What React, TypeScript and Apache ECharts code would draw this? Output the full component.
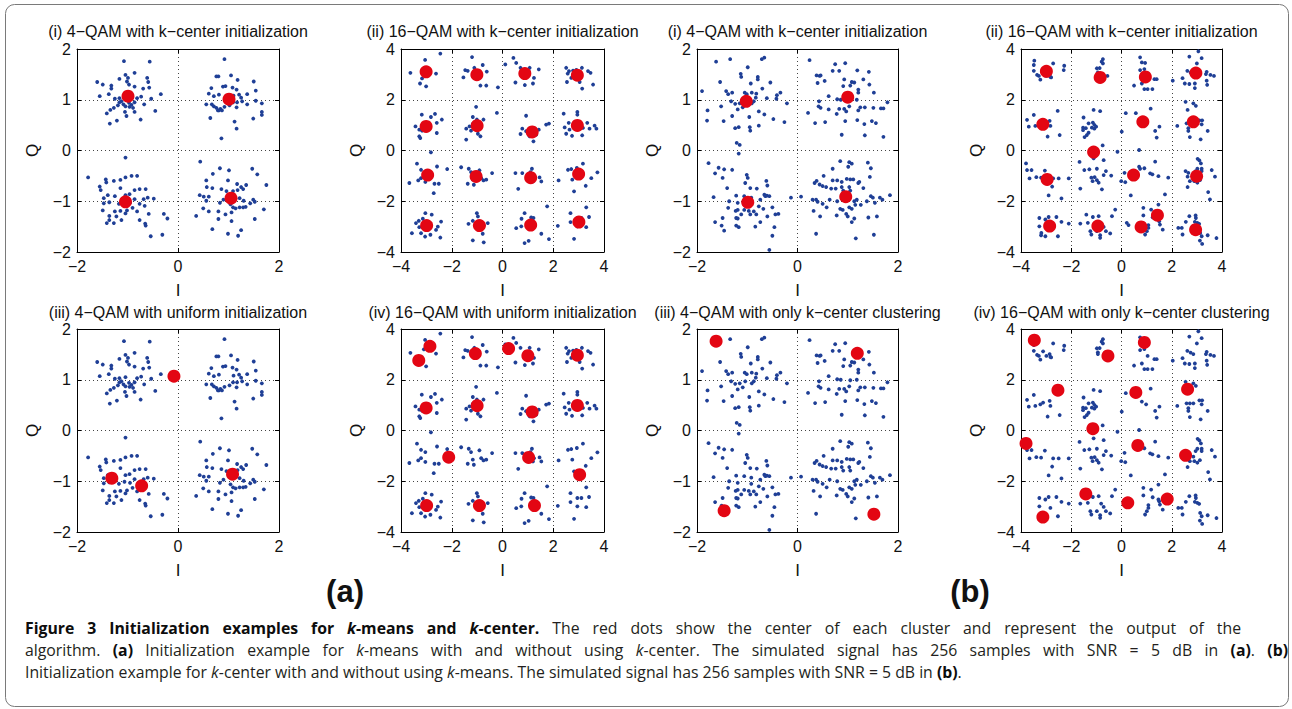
import React, { useEffect, useRef } from 'react';
import * as echarts from 'echarts';

// ---------- data ----------
// 4-QAM signal used in panels (a)(i) and (a)(iii)
const qam4A: number[][] = [
  [-1.07,1.76],[-0.56,1.75],[-1.60,1.35],[-1.49,1.30],[-0.86,1.53],[-1.04,1.49],[-0.99,1.43],[-1.16,1.41],[-0.61,1.43],[-0.59,1.35],
  [-1.32,1.28],[-1.32,1.22],[-1.01,1.36],[-0.97,1.30],[-0.86,1.26],[-0.69,1.22],[-0.57,1.24],[-0.34,1.11],[-1.55,1.07],[-1.37,1.11],
  [-1.25,1.02],[-1.16,1.03],[-1.04,1.05],[-1.12,0.97],[-1.08,0.91],[-0.97,0.94],[-0.92,0.90],[-0.86,0.95],[-1.19,0.89],[-1.16,0.95],
  [-0.81,1.03],[-0.73,1.06],[-0.67,0.91],[-0.53,1.02],[-0.89,0.84],[-0.96,0.86],[-1.04,0.87],[-1.27,0.84],[-1.34,0.80],[-1.41,0.73],
  [-1.05,0.76],[-0.86,0.76],[-1.02,0.68],[-0.45,0.78],[-1.21,0.59],[-0.74,0.61],[-1.35,0.53],
  [0.92,1.80],[0.80,1.46],[0.76,1.46],[1.05,1.48],[1.18,1.39],[1.50,1.36],[0.66,1.23],[0.89,1.26],[0.94,1.27],[1.08,1.24],
  [1.16,1.20],[0.81,1.10],[0.61,1.12],[0.71,1.07],[1.21,1.10],[1.25,1.04],[1.54,1.18],[1.10,1.08],[0.56,0.91],[0.67,0.91],
  [0.71,0.87],[0.76,0.84],[0.81,0.79],[0.84,0.82],[0.92,0.86],[0.79,0.79],[0.87,0.79],[1.17,0.95],[1.27,0.97],[1.37,0.91],
  [1.54,0.98],[1.66,0.93],[1.16,0.85],[1.37,1.11],[0.64,0.64],[1.49,0.63],[1.66,0.76],[1.66,0.70],[1.12,0.57],[1.16,0.43],
  [0.86,0.24],[1.02,0.89],[1.09,0.95],
  [-1.04,-0.14],[-1.78,-0.53],[-1.43,-0.57],[-1.55,-0.71],[-1.53,-0.78],[-1.42,-0.63],[-1.27,-0.60],[-1.14,-0.58],[-1.04,-0.53],[-0.92,-0.50],
  [-0.81,-0.50],[-1.14,-0.74],[-1.04,-0.88],[-0.96,-0.86],[-0.86,-0.78],[-0.76,-0.76],[-0.64,-0.76],[-1.39,-0.88],[-1.25,-0.90],[-1.47,-0.94],
  [-1.36,-1.02],[-1.47,-1.04],[-1.17,-1.05],[-0.95,-1.03],[-0.86,-0.96],[-0.68,-0.96],[-0.60,-0.93],[-0.48,-0.95],[-0.76,-1.05],[-0.66,-1.09],
  [-1.25,-1.20],[-1.14,-1.19],[-1.04,-1.24],[-1.01,-1.18],[-0.90,-1.13],[-0.81,-1.20],[-1.49,-1.18],[-1.36,-1.29],[-1.22,-1.30],[-1.36,-1.37],
  [-1.41,-1.43],[-1.27,-1.43],[-1.12,-1.37],[-0.76,-1.37],[-0.65,-1.44],[-0.64,-1.48],[-0.58,-1.25],[-0.28,-1.25],[-0.21,-1.34],[-0.54,-1.69],
  [-0.31,-1.66],[-1.06,-1.01],
  [0.44,-0.22],[0.83,-0.35],[0.69,-0.46],[1.01,-0.39],[1.47,-0.36],[1.57,-0.47],[1.75,-0.68],[0.56,-0.59],[0.99,-0.59],[1.17,-0.66],
  [1.25,-0.72],[1.35,-0.68],[1.29,-0.76],[0.57,-0.72],[0.68,-0.74],[0.86,-0.76],[0.96,-0.80],[1.09,-0.80],[1.18,-0.78],[0.43,-0.88],
  [0.51,-0.91],[0.61,-0.91],[0.56,-0.99],[0.83,-1.03],[0.90,-0.97],[1.22,-0.94],[1.30,-0.99],[1.49,-0.97],[1.52,-1.01],[1.04,-1.06],
  [1.09,-1.12],[1.14,-1.14],[1.22,-1.12],[1.29,-1.12],[1.34,-1.11],[1.43,-1.04],[1.70,-1.16],[0.50,-1.14],[0.61,-1.20],[0.80,-1.20],
  [0.94,-1.26],[1.06,-1.22],[0.36,-1.29],[1.06,-1.39],[1.52,-1.35],[0.68,-1.55],[1.25,-1.57],[0.99,-1.64],[1.19,-1.68],[0.80,-1.35],
];

// 16-QAM signal used in panels (a)(ii) and (a)(iv)
const qam16A: number[][] = [
  [-2.45,3.82],[-3.63,3.06],[-3.05,3.57],[-3.17,2.84],[-3.25,2.64],[-3.01,2.53],[-2.62,3.03],[-3.10,3.20],
  [-1.20,3.68],[-1.47,3.17],[-1.37,3.14],[-1.54,2.88],[-1.11,3.26],[-0.78,3.37],[-0.62,3.11],[-0.87,2.56],[-0.64,2.56],[-1.17,2.95],[-0.18,2.49],
  [0.11,3.39],[0.43,3.65],[0.54,3.45],[0.71,3.26],[1.07,3.26],[1.43,3.20],[1.04,3.11],[0.51,2.68],[0.88,2.58],[1.20,2.64],[1.24,2.86],
  [2.51,3.26],[2.62,3.13],[2.57,3.03],[2.78,3.15],[2.91,3.18],[3.13,3.26],[3.37,3.13],[3.47,3.06],[2.71,2.86],[2.54,2.70],[3.04,2.70],[3.14,2.44],[3.57,2.60],[2.86,3.00],
  [-3.18,1.41],[-2.66,1.44],[-2.82,1.32],[-2.39,1.22],[-2.59,1.09],[-3.43,0.95],[-3.28,0.82],[-3.17,0.78],[-3.28,0.56],[-2.59,0.69],[-3.24,0.49],
  [-1.04,1.72],[-0.22,1.48],[-1.17,1.32],[-1.01,1.22],[-0.75,1.22],[-1.43,0.86],[-1.30,0.95],[-1.17,1.05],[-1.24,0.78],[-0.97,0.66],[-0.87,0.56],[-1.43,0.43],
  [0.93,1.37],[0.78,0.86],[0.71,0.65],[1.72,1.02],[1.83,1.06],[0.93,0.76],[1.07,0.56],[1.22,0.36],[1.43,0.82],[1.33,0.63],
  [2.41,1.45],[2.95,1.52],[2.95,1.41],[2.61,1.09],[2.45,0.91],[2.64,0.82],[2.51,0.66],[2.74,0.58],[3.14,0.60],[3.34,1.09],[3.17,0.89],[3.63,0.98],[3.70,0.86],[3.43,0.86],
  [-3.37,-0.52],[-2.82,-0.07],[-3.21,-0.76],[-3.04,-0.85],[-2.58,-0.63],[-2.18,-0.73],[-3.67,-1.28],[-3.32,-1.18],[-3.21,-1.09],[-3.04,-1.24],[-2.68,-1.31],[-2.51,-1.31],[-2.71,-1.68],
  [-1.63,-0.66],[-1.33,-0.72],[-1.24,-0.85],[-0.91,-0.78],[-0.41,-0.89],[-1.37,-1.31],[-1.17,-1.15],[-1.13,-1.35],[-0.84,-1.09],[-0.75,-1.18],[-0.64,-1.15],
  [0.51,-0.89],[0.78,-0.89],[1.16,-0.72],[1.24,-1.09],[1.46,-1.06],[1.53,-1.22],[1.20,-1.22],[0.62,-1.51],[1.10,-0.85],
  [2.93,-0.69],[3.17,-0.52],[2.58,-0.76],[2.71,-0.73],[3.74,-0.86],[3.50,-1.09],[2.75,-1.15],[2.21,-1.18],[2.82,-1.61],[3.28,-1.39],
  [-3.57,-3.26],[-3.41,-2.86],[-3.30,-2.77],[-3.14,-2.69],[-3.04,-2.47],[-2.79,-2.53],[-2.42,-2.80],[-3.21,-3.26],[-3.05,-3.39],[-2.84,-3.32],[-2.45,-3.43],[-2.62,-3.13],[-2.55,-3.00],[-3.28,-3.02],
  [-1.01,-2.47],[-0.97,-2.60],[-1.34,-2.89],[-1.17,-2.77],[-0.74,-2.95],[-0.58,-2.86],[-0.78,-3.28],[-1.17,-3.54],[-0.74,-3.62],
  [0.87,-2.47],[0.75,-2.69],[1.13,-2.64],[1.22,-2.66],[0.54,-3.06],[0.74,-2.99],[0.87,-3.65],[1.03,-3.56],[1.53,-3.28],[1.83,-3.49],[1.76,-2.20],
  [2.68,-2.47],[3.30,-2.24],[3.41,-2.62],[2.18,-2.97],[2.68,-2.82],[2.95,-2.66],[3.11,-2.66],[2.95,-2.99],[3.30,-3.02],[2.82,-3.48],
];

// 4-QAM signal used in panels (b)(i) and (b)(iii)
const qam4B: number[][] = [
  [-1.62,1.75],[-1.34,1.80],[-0.71,1.80],[-0.66,1.83],[-0.99,1.64],[-1.90,1.17],[-1.54,1.35],[-1.13,1.51],[-1.12,1.45],[-0.79,1.45],
  [-0.79,1.40],[-0.93,1.32],[-0.54,1.34],[-1.42,1.17],[-1.38,1.11],[-1.30,1.14],[-1.05,1.14],[-1.01,1.11],[-0.91,1.14],[-0.82,1.12],
  [-0.70,1.22],[-0.83,1.04],[-0.61,1.03],[-0.41,1.09],[-0.34,1.14],[-0.42,1.02],[-0.21,0.93],[-1.79,0.79],[-1.52,0.87],[-1.32,0.97],
  [-1.24,0.92],[-1.15,0.93],[-1.19,0.81],[-1.09,0.85],[-0.91,0.93],[-0.87,0.97],[-0.77,0.77],[-1.30,0.68],[-0.66,0.71],[-1.80,0.59],
  [-1.47,0.58],[-0.96,0.66],[-0.77,0.49],[-0.95,0.46],[-0.94,0.39],[-1.24,0.44],[-1.17,0.46],[-0.48,0.62],[-0.26,0.56],[-1.21,0.15],
  [-1.15,0.11],[-1.17,-0.06],[-1.04,0.97],
  [0.24,1.78],[0.75,1.70],[0.95,1.72],[0.70,1.57],[0.83,1.57],[1.19,1.58],[1.42,1.55],[0.38,1.48],[0.44,1.47],[0.46,1.48],
  [0.40,1.33],[0.54,1.37],[0.93,1.40],[1.08,1.35],[1.13,1.34],[1.31,1.40],[1.43,1.30],[0.91,1.27],[1.05,1.28],[1.21,1.20],
  [1.21,1.14],[1.52,1.14],[0.62,1.07],[0.43,0.97],[0.79,1.01],[0.86,1.00],[1.05,0.99],[1.18,1.00],[1.79,0.95],[0.21,0.74],
  [0.42,0.87],[0.46,0.84],[0.62,0.81],[0.83,0.82],[0.93,0.82],[0.97,0.77],[1.03,0.87],[1.21,0.79],[1.25,0.85],[1.34,0.85],
  [1.51,0.84],[1.66,0.83],[1.71,0.83],[0.78,0.72],[0.95,0.58],[1.19,0.60],[1.33,0.52],[1.48,0.58],[1.56,0.54],[0.35,0.54],
  [0.55,0.56],[0.88,0.31],[1.34,0.30],[1.71,0.27],
  [-1.77,-0.25],[-1.57,-0.34],[-1.46,-0.37],[-1.30,-0.38],[-1.64,-0.45],[-1.49,-0.54],[-1.01,-0.48],[-0.99,-0.54],[-1.04,-0.64],[-0.94,-0.74],
  [-0.81,-0.75],[-1.40,-0.74],[-1.22,-0.89],[-1.06,-0.90],[-0.62,-0.60],[-0.60,-0.69],[-1.67,-0.92],[-1.36,-1.00],[-1.19,-1.03],[-0.92,-0.93],
  [-0.74,-0.97],[-0.66,-0.87],[-0.64,-0.90],[-0.61,-0.89],[-0.56,-0.90],[-0.77,-1.10],[-0.92,-1.05],[-1.38,-1.13],[-1.23,-1.19],[-1.19,-1.17],
  [-1.06,-1.17],[-0.97,-1.19],[-0.87,-1.20],[-0.94,-1.26],[-0.82,-1.26],[-0.68,-1.15],[-0.50,-1.12],[-0.44,-1.26],[-0.38,-1.25],[-1.49,-1.33],
  [-1.22,-1.33],[-1.19,-1.34],[-1.12,-1.26],[-0.60,-1.30],[-1.64,-1.41],[-1.51,-1.48],[-1.46,-1.58],[-1.22,-1.48],[-1.17,-1.51],[-0.84,-1.50],
  [-0.74,-1.41],[-0.46,-1.51],[-0.50,-1.68],[-0.56,-1.96],[-0.13,-0.93],
  [0.07,-0.91],[0.85,-0.21],[1.03,-0.23],[1.08,-0.26],[1.40,-0.24],[0.70,-0.36],[1.01,-0.32],[1.46,-0.35],[0.52,-0.50],[0.38,-0.60],
  [0.34,-0.64],[0.44,-0.67],[0.50,-0.70],[0.57,-0.72],[0.70,-0.59],[0.79,-0.59],[0.88,-0.62],[0.98,-0.56],[1.05,-0.57],[1.11,-0.57],
  [1.21,-0.64],[1.44,-0.52],[0.67,-0.75],[0.76,-0.75],[0.88,-0.72],[0.91,-0.79],[1.03,-0.72],[1.05,-0.79],[1.23,-0.62],[1.31,-0.74],
  [1.46,-0.90],[1.50,-0.93],[1.64,-0.93],[1.84,-0.88],[0.30,-0.97],[0.37,-0.97],[0.40,-1.01],[0.50,-1.05],[0.64,-0.97],[0.58,-1.12],
  [0.79,-1.00],[1.13,-1.00],[1.18,-0.97],[1.15,-1.07],[1.03,-1.12],[1.08,-1.15],[1.26,-1.07],[1.38,-1.00],[1.54,-1.03],[1.69,-0.97],
  [0.32,-1.19],[0.45,-1.30],[0.78,-1.28],[0.85,-1.15],[0.90,-1.17],[0.97,-1.25],[1.00,-1.30],[1.13,-1.34],[1.08,-1.41],[1.41,-1.32],
  [1.58,-1.30],[0.37,-1.64],[1.16,-1.73],[1.52,-1.66],
];

// 16-QAM signal used in panels (b)(ii) and (b)(iv)
const qam16B: number[][] = [
  [-3.47,3.54],[-3.49,3.37],[-3.49,3.14],[-3.36,2.98],[-3.29,2.94],[-3.23,2.79],[-2.99,2.94],[-2.86,3.01],[-2.83,2.90],[-2.72,3.43],[-2.80,2.88],[-2.28,3.34],[-2.30,3.17],[-3.12,3.12],
  [-0.74,3.60],[-0.74,3.43],[-0.98,3.24],[-0.87,3.25],[-0.94,3.08],[-0.94,3.01],[-0.56,2.94],[-0.79,3.50],
  [0.74,3.67],[0.81,3.47],[0.94,3.45],[0.91,3.21],[0.74,3.17],[1.31,2.81],[1.40,2.81],[0.50,2.56],[0.81,2.64],[0.91,2.42],[1.04,2.42],[1.23,2.42],[1.04,2.94],
  [3.06,3.91],[2.70,3.70],[3.19,3.64],[3.00,3.43],[2.62,3.14],[2.75,3.07],[2.86,3.01],[2.43,2.85],[2.04,2.75],[2.52,2.64],[2.70,2.62],[2.92,2.46],[2.92,2.64],[3.39,3.10],[3.36,3.01],[3.39,2.75],[3.41,2.59],[3.54,2.98],[3.68,2.94],
  [-3.76,1.21],[-3.69,0.94],[-3.49,1.40],[-3.43,0.97],[-3.23,1.03],[-3.12,1.10],[-2.86,1.17],[-2.83,0.97],[-2.54,1.56],[-2.46,0.61],[-2.94,0.55],
  [-1.51,1.30],[-1.31,1.07],[-1.42,0.88],[-1.53,0.90],[-1.53,0.80],[-1.31,0.70],[-1.47,0.53],[-1.38,0.61],[-1.11,1.60],[-0.85,1.55],[-1.14,1.10],[-1.08,1.01],[-1.18,0.90],[-1.08,0.86],[-1.01,0.94],
  [0.01,0.74],[0.17,1.47],[0.57,1.47],[1.16,1.65],[0.81,1.14],[0.98,1.03],[1.34,0.77],[1.40,0.51],[1.51,0.94],
  [2.55,1.92],[2.86,1.86],[2.96,1.76],[2.63,1.60],[2.22,0.97],[2.59,1.07],[2.72,1.07],[2.86,1.07],[2.66,0.88],[2.66,0.77],[2.72,0.53],[3.10,1.19],[3.21,1.19],[3.19,1.03],[3.15,0.44],[3.43,0.77],
  [-3.80,-0.51],[-3.76,-0.77],[-3.58,-0.77],[-3.66,-1.10],[-3.39,-1.05],[-3.20,-1.07],[-3.05,-0.79],[-2.72,-1.10],[-2.50,-1.10],[-2.76,-1.42],[-2.90,-1.77],[-2.39,-1.89],[-2.10,-1.10],
  [-1.67,-0.45],[-1.48,-0.77],[-1.28,-0.74],[-1.11,-0.31],[-0.71,-0.38],[-0.98,-0.72],[-0.62,-0.81],[-0.41,-0.99],[-0.71,-0.97],[-1.20,-1.07],[-1.15,-1.21],[-1.07,-1.05],[-0.98,-1.17],[-0.91,-1.27],[-0.78,-1.53],[-1.64,-1.50],[-0.75,0.20],[-0.16,-0.05],
  [-0.01,-1.21],[0.12,-0.88],[0.15,-1.25],[0.37,-1.77],[0.70,-0.64],[0.74,-0.72],[0.91,-0.70],[0.70,0.02],[1.14,-0.90],[1.23,-0.94],[1.47,-1.01],[1.34,-0.44],[1.86,-1.07],[1.73,-1.73],
  [2.55,-0.81],[2.66,-0.88],[2.63,-1.03],[2.63,-1.44],[2.72,-1.21],[2.95,-0.81],[3.02,-0.72],[3.03,-0.33],[3.10,-0.39],[3.16,-0.51],[3.19,-0.72],[3.19,-0.81],[2.86,-1.03],[2.90,-1.21],[3.02,-1.27],[3.12,-1.17],[3.45,-1.64],[3.52,-1.93],[3.59,-0.77],[3.72,-1.03],
  [-3.27,-2.66],[-3.27,-2.99],[-3.19,-3.25],[-3.20,-3.34],[-3.03,-3.38],[-3.03,-2.72],[-2.90,-2.62],[-2.59,-2.62],[-2.39,-2.81],[-2.83,-3.05],[-2.53,-3.38],[-2.10,-2.88],
  [-1.40,-2.53],[-1.14,-2.62],[-0.91,-2.59],[-1.64,-2.88],[-1.34,-2.85],[-1.24,-3.18],[-1.20,-3.31],[-0.98,-3.18],[-0.85,-3.34],[-0.85,-3.44],[-0.81,-2.88],[-0.71,-3.01],[-0.62,-3.18],[-0.45,-3.27],[-0.38,-2.59],[-0.25,-2.33],
  [0.21,-2.85],[0.28,-2.94],[0.87,-2.26],[0.87,-2.56],[1.18,-2.33],[1.24,-2.63],[1.47,-2.13],[1.47,-2.72],[1.50,-2.79],[1.53,-2.92],[0.94,-3.31],[1.01,-3.18],[1.07,-2.94],[1.07,-3.05],[1.64,-3.12],
  [2.26,-3.05],[2.40,-3.05],[2.43,-3.31],[2.56,-2.81],[2.70,-2.59],[2.95,-2.56],[2.96,-2.66],[2.92,-2.81],[3.02,-2.85],[3.09,-2.89],[3.13,-3.25],[3.19,-3.38],[3.21,-3.68],[3.12,-3.55],[3.43,-3.34],[3.78,-3.45],
];

// cluster centres (red dots)
const centersA1: number[][] = [[-0.99,1.07],[1.01,1.01],[-1.04,-1.01],[1.05,-0.94]];
const centersA3: number[][] = [[-0.08,1.07],[-1.31,-0.94],[-0.72,-1.09],[1.08,-0.86]];
const centersA2: number[][] = [
  [-3.01,3.10],[-1.01,2.99],[0.88,3.03],[2.95,2.97],[-3.01,0.95],[-1.00,0.98],[1.17,0.73],[2.95,0.99],
  [-2.95,-0.97],[-1.04,-1.02],[1.11,-1.07],[3.00,-0.93],[-2.99,-2.96],[-0.91,-2.96],[1.11,-2.94],[3.01,-2.82],
];
const centersA4: number[][] = [
  [-2.86,3.32],[-3.30,2.76],[-1.07,3.03],[0.24,3.23],[1.00,2.95],[2.95,2.97],[-3.01,0.89],[-1.00,0.98],
  [1.17,0.73],[2.95,0.99],[-2.12,-1.05],[1.03,-1.06],[3.04,-1.74],[-2.99,-2.96],[-0.91,-2.96],[1.26,-2.96],
];
const centersB1: number[][] = [[-1.02,0.97],[1.00,1.05],[-0.99,-1.02],[0.96,-0.91]];
const centersB3: number[][] = [[-1.62,1.76],[1.19,1.52],[-1.46,-1.58],[1.52,-1.65]];
const centersB2: number[][] = [
  [-2.99,3.12],[-0.85,2.88],[0.95,2.90],[2.96,3.05],[-3.13,1.03],[0.85,1.13],[2.86,1.13],[-1.11,-0.06],
  [-2.96,-1.14],[0.48,-0.97],[2.99,-1.01],[-2.86,-2.98],[-0.94,-2.98],[0.78,-3.01],[1.43,-2.55],[2.95,-3.12],
];
const centersB4: number[][] = [
  [-3.47,3.56],[-0.54,2.94],[0.91,3.47],[-2.53,1.59],[0.57,1.50],[2.63,1.63],[-1.14,0.07],
  [-3.80,-0.51],[0.65,-0.59],[2.55,-0.98],[-1.42,-2.50],[0.25,-2.85],[1.82,-2.70],[-3.13,-3.41],
];

const titles: string[] = [
  '(i) 4\u2212QAM with k\u2212center initialization',
  '(ii) 16\u2212QAM with k\u2212center initialization',
  '(i) 4\u2212QAM with k\u2212center initialization',
  '(ii) 16\u2212QAM with k\u2212center initialization',
  '(iii) 4\u2212QAM with uniform initialization',
  '(iv) 16\u2212QAM with uniform initialization',
  '(iii) 4\u2212QAM with only k\u2212center clustering',
  '(iv) 16\u2212QAM with only k\u2212center clustering',
];

// caption text, as styled runs (b = bold, bi = bold italic, n = normal, i = italic)
type Run = { s: string; t: string };
const captionLine1: Run[] = [
  { s: 'b', t: 'Figure 3 Initialization examples for ' }, { s: 'bi', t: 'k' }, { s: 'b', t: '-means and ' },
  { s: 'bi', t: 'k' }, { s: 'b', t: '-center.' },
  { s: 'n', t: ' The red dots show the center of each cluster and represent the output of the' },
];
const captionLine2: Run[] = [
  { s: 'n', t: 'algorithm. ' }, { s: 'b', t: '(a)' }, { s: 'n', t: ' Initialization example for ' }, { s: 'i', t: 'k' },
  { s: 'n', t: '-means with and without using ' }, { s: 'i', t: 'k' },
  { s: 'n', t: '-center. The simulated signal has 256 samples with SNR = 5 dB in ' }, { s: 'b', t: '(a)' },
  { s: 'n', t: '. ' }, { s: 'b', t: '(b)' },
];
const captionLine3: Run[] = [
  { s: 'n', t: 'Initialization example for ' }, { s: 'i', t: 'k' }, { s: 'n', t: '-center with and without using ' },
  { s: 'i', t: 'k' }, { s: 'n', t: '-means. The simulated signal has 256 samples with SNR = 5 dB in ' },
  { s: 'b', t: '(b)' }, { s: 'n', t: '.' },
];

const pointSets = [qam4A, qam16A, qam4B, qam16B, qam4A, qam16A, qam4B, qam16B];
const centerSets = [centersA1, centersA2, centersB1, centersB2, centersA3, centersA4, centersB3, centersB4];
const ranges = [2, 4, 2, 4, 2, 4, 2, 4];

// layout
const colLeft = [77, 401, 697, 1021];
const colWidth = [202, 203, 201, 201];
const rowTop = [49, 329];
const rowTitleY = [31, 312];
const PLOT_H = 203;

const BLUE = '#1f3f96';
const RED = '#e30613';
const AX_FONT = "'Liberation Sans', Arial, Helvetica, sans-serif";
const CAP_FONT = "'Open Sans', 'Noto Sans', sans-serif";
const CAP_SIZE = 15.8;
const fmt = (v: number) => (v < 0 ? '\u2212' + Math.abs(v) : String(v));

function capFont(s: string) {
  const w = s === 'b' || s === 'bi' ? 'bold' : 'normal';
  const st = s === 'i' || s === 'bi' ? 'italic' : 'normal';
  return `${st} ${w} ${CAP_SIZE}px ${CAP_FONT}`;
}
function capFill(s: string) {
  return s === 'b' || s === 'bi' ? '#0d0d0d' : '#231f20';
}

function toWords(runs: Run[]): Run[][] {
  const words: Run[][] = [];
  let cur: Run[] = [];
  runs.forEach((r) => {
    const parts = r.t.split(' ');
    parts.forEach((p, idx) => {
      if (idx > 0) {
        if (cur.length) words.push(cur);
        cur = [];
      }
      if (p) cur.push({ s: r.s, t: p });
    });
  });
  if (cur.length) words.push(cur);
  return words;
}

function captionGraphics(runs: Run[], x0: number, y: number, justifyTo: number | null): any[] {
  const ctx = document.createElement('canvas').getContext('2d') as CanvasRenderingContext2D;
  const measure = (t: string, s: string) => {
    ctx.font = capFont(s);
    return ctx.measureText(t).width;
  };
  const words = toWords(runs);
  const widths = words.map((w) => w.reduce((acc, r) => acc + measure(r.t, r.s), 0));
  const space = measure(' ', 'n');
  const total = widths.reduce((a, b) => a + b, 0);
  const gap = justifyTo !== null && words.length > 1 ? (justifyTo - x0 - total) / (words.length - 1) : space;
  const out: any[] = [];
  let x = x0;
  const rich: any = {};
  ['b', 'bi', 'n', 'i'].forEach((s) => {
    rich[s] = {
      fontFamily: CAP_FONT, fontSize: CAP_SIZE, lineHeight: 18,
      fontWeight: s === 'b' || s === 'bi' ? 'bold' : 'normal',
      fontStyle: s === 'i' || s === 'bi' ? 'italic' : 'normal',
      fill: capFill(s), color: capFill(s),
    };
  });
  words.forEach((w, k) => {
    if (w.length === 1) {
      out.push({
        type: 'text', x, y,
        style: { text: w[0].t, font: capFont(w[0].s), fill: capFill(w[0].s), align: 'left', verticalAlign: 'middle' },
      });
    } else {
      out.push({
        type: 'text', x, y,
        style: {
          text: w.map((r) => `{${r.s}|${r.t}}`).join(''), rich, lineHeight: 18,
          font: capFont('n'), fill: capFill('n'), align: 'left', verticalAlign: 'middle',
        },
      });
    }
    x += widths[k] + gap;
  });
  return out;
}

function buildOption() {
  const grid: any[] = [];
  const xAxis: any[] = [];
  const yAxis: any[] = [];
  const series: any[] = [];
  const graphic: any[] = [];

  for (let i = 0; i < 8; i++) {
    const col = i % 4;
    const row = Math.floor(i / 4);
    const r = ranges[i];
    const left = colLeft[col];
    const width = colWidth[col];
    const top = rowTop[row];
    grid.push({ left, top, width, height: PLOT_H, containLabel: false });

    const line = { show: true, onZero: false, lineStyle: { color: '#000', width: 1 } };
    const tick = { show: true, inside: true, length: 4, lineStyle: { color: '#000', width: 1 } };
    const split = { show: true, lineStyle: { color: '#444', width: 1, type: [1, 3] } };
    const label = { show: true, color: '#111', fontSize: 16, fontFamily: AX_FONT, formatter: fmt };

    xAxis.push({
      gridIndex: i, type: 'value', position: 'bottom', min: -r, max: r, interval: 2,
      axisLine: line, axisTick: tick, splitLine: split,
      axisLabel: { ...label, margin: 6 },
      name: 'I', nameLocation: 'middle', nameGap: 30,
      nameTextStyle: { color: '#111', fontSize: 17, fontFamily: AX_FONT },
    });
    xAxis.push({
      gridIndex: i, type: 'value', position: 'top', min: -r, max: r, interval: 2,
      axisLine: line, axisTick: tick, splitLine: { show: false }, axisLabel: { show: false },
    });
    const yi = r === 2 ? 1 : 2;
    yAxis.push({
      gridIndex: i, type: 'value', position: 'left', min: -r, max: r, interval: yi,
      axisLine: line, axisTick: tick, splitLine: split,
      axisLabel: { ...label, margin: 6 },
      name: 'Q', nameLocation: 'middle', nameGap: 36,
      nameTextStyle: { color: '#111', fontSize: 17, fontFamily: AX_FONT },
    });
    yAxis.push({
      gridIndex: i, type: 'value', position: 'right', min: -r, max: r, interval: yi,
      axisLine: line, axisTick: tick, splitLine: { show: false }, axisLabel: { show: false },
    });

    series.push({
      type: 'scatter', xAxisIndex: 2 * i, yAxisIndex: 2 * i, data: pointSets[i],
      symbol: 'circle', symbolSize: 3.8, itemStyle: { color: BLUE, opacity: 1 }, silent: true, z: 2,
    });
    series.push({
      type: 'scatter', xAxisIndex: 2 * i, yAxisIndex: 2 * i, data: centerSets[i],
      symbol: 'circle', symbolSize: 13, itemStyle: { color: RED, opacity: 1 }, silent: true, z: 3,
    });

    graphic.push({
      type: 'text', x: left + width / 2, y: rowTitleY[row],
      style: { text: titles[i], align: 'center', verticalAlign: 'middle', fill: '#111', font: `16px ${AX_FONT}` },
    });
  }

  // outer rounded frame
  graphic.push({
    type: 'rect', shape: { x: 5.5, y: 4.5, width: 1283, height: 702, r: 9 },
    style: { fill: 'none', stroke: '#7a7a7a', lineWidth: 1 }, z: -1,
  });
  graphic.push({
    type: 'text', x: 345, y: 591,
    style: { text: '(a)', align: 'center', verticalAlign: 'middle', fill: '#111', font: `bold 31px 'Liberation Sans Narrow', 'Liberation Sans', Arial, sans-serif` },
  });
  graphic.push({
    type: 'text', x: 970, y: 591,
    style: { text: '(b)', align: 'center', verticalAlign: 'middle', fill: '#111', font: `bold 31px 'Liberation Sans Narrow', 'Liberation Sans', Arial, sans-serif` },
  });

  // caption: first two lines justified like the printed figure, last line natural
  graphic.push(...captionGraphics(captionLine1, 25, 628, 1241));
  graphic.push(...captionGraphics(captionLine2, 25, 650, 1288));
  graphic.push(...captionGraphics(captionLine3, 25, 672, null));

  return {
    animation: false,
    backgroundColor: '#ffffff',
    grid, xAxis, yAxis, series, graphic,
  };
}

export default function App() {
  const ref = useRef<HTMLDivElement>(null);
  useEffect(() => {
    if (!ref.current) return;
    const chart = echarts.init(ref.current, undefined, { renderer: 'svg' });
    chart.setOption(buildOption() as any);
    return () => chart.dispose();
  }, []);
  return (
    <div
      ref={ref}
      style={{ position: 'absolute', left: 0, top: 0, width: 1292, height: 709, background: '#fff' }}
    />
  );
}
